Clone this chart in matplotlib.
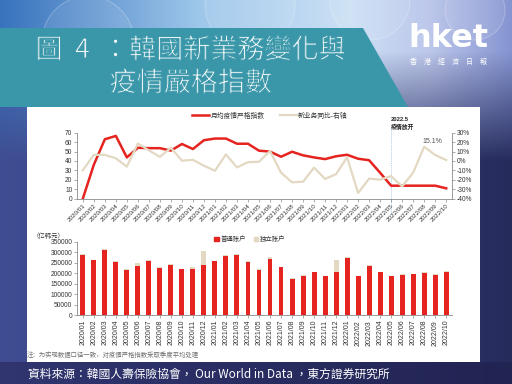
import numpy as np
import matplotlib
matplotlib.use("Agg")
import matplotlib.pyplot as plt
import matplotlib.patheffects as pe
from matplotlib.patches import Polygon, Rectangle, Circle, Patch
from matplotlib.lines import Line2D

# ---------------- data ----------------
months = ["2020/01", "2020/02", "2020/03", "2020/04", "2020/05", "2020/06",
          "2020/07", "2020/08", "2020/09", "2020/10", "2020/11", "2020/12",
          "2021/01", "2021/02", "2021/03", "2021/04", "2021/05", "2021/06",
          "2021/07", "2021/08", "2021/09", "2021/10", "2021/11", "2021/12",
          "2022/01", "2022/02", "2022/03", "2022/04", "2022/05", "2022/06",
          "2022/07", "2022/08", "2022/09", "2022/10"]

# monthly average stringency index (left axis)
stringency = [0, 36, 63, 66.6, 43.8, 54, 53.6, 53.6, 51, 58, 52.7, 62,
              63.8, 63.8, 58.3, 58.3, 50.9, 50, 44.5, 49.8, 46, 43.8, 42, 45,
              46.6, 42.4, 40.8, 27.5, 13.8, 13.8, 13.8, 13.8, 13.8, 11]

# new business YoY, % (right axis)
newbiz_yoy = [-9.8, 6.5, 6.5, 2.8, -6, 18.5, 11.3, 4.4, 14, 0.3, 1.2, -5,
              -10.4, 7, -6.8, -1.3, -0.8, 10.6, -12.4, -22.6, -22, -7, -19, -14,
              3.9, -34, -18.7, -19.8, -16, -27, -12.4, 15.1, 6.4, 1]

# premiums, 100 million KRW
general_acct = [285000, 262000, 310000, 253000, 216000, 236000, 258000, 226000,
                240000, 219000, 220000, 239000, 257000, 283000, 286000, 253000,
                215000, 268000, 227000, 174000, 188000, 203000, 184000, 206000,
                272000, 185000, 233000, 203000, 184000, 192000, 195000, 201000,
                192000, 205000]
separate_acct = [5000, 3000, 3000, 5000, 3000, 12000, 3000, 3000, 3000, 2000,
                 9000, 67000, 3000, 2000, 5000, 3000, 3000, 8000, 2000, 3000,
                 2000, 2000, 2000, 59000, 3000, 2000, 4000, 3000, 2000, 4000,
                 2000, 3000, 5000, 3000]

title_lines = ["圖  4  ：韓國新業務變化與", "疫情嚴格指數"]
source_text = "資料來源：韓國人壽保險協會， Our World in Data ，東方證券研究所"
note_text = "注：为实现数据口径一致，对疫情严格指数采取季度平均处理"

# ---------------- style ----------------
CH = ["Liberation Sans", "Noto Sans CJK SC"]
plt.rcParams["font.family"] = CH
RED = "#e5231f"
BEIGE = "#e3d9c3"
TXT = "#333333"
SPINE = "#8a8a8a"
TEAL = "#3a97a9"

W, H = 512, 384
fig = plt.figure(figsize=(5.12, 3.84), dpi=100)

# ---------------- background ----------------
bg = fig.add_axes([0, 0, 1, 1])
bg.set_xlim(0, W)
bg.set_ylim(H, 0)
bg.axis("off")

yy, xx = np.mgrid[0:H, 0:W].astype(float)
xs = np.array([0, 200, 350, 430, 512])
top_cols = np.array([[0.22, 0.45, 0.74], [0.62, 0.78, 0.92], [0.80, 0.88, 0.96],
                     [0.74, 0.78, 0.92], [0.52, 0.58, 0.82]])
dark_cols = np.array([[0.25, 0.30, 0.57], [0.23, 0.27, 0.52], [0.20, 0.23, 0.46],
                      [0.17, 0.20, 0.40], [0.15, 0.17, 0.36]])
img = np.zeros((H, W, 3))
f = np.clip((yy - 50) / 110.0, 0, 1)
for c in range(3):
    tc = np.interp(xx, xs, top_cols[:, c])
    dc = np.interp(xx, xs, dark_cols[:, c])
    img[..., c] = tc * (1 - f) + dc * f
foot = yy >= 362
for c, (a, b) in enumerate([(0.19, 0.13), (0.21, 0.14), (0.44, 0.32)]):
    img[..., c] = np.where(foot, a + (b - a) * xx / W, img[..., c])
bg.imshow(img, extent=(0, W, H, 0), aspect="auto", zorder=0)

for (cx, cy, r) in [(88, 42, 46), (250, 5, 45), (370, 0, 40), (475, 10, 30)]:
    bg.add_patch(Circle((cx, cy), r, fc=(1, 1, 1, 0.08), ec=(1, 1, 1, 0.25),
                        lw=0.7, zorder=1))

bg.add_patch(Polygon([(0, 28), (363, 28), (408, 107), (0, 107)], closed=True,
                     fc=TEAL, ec="none", zorder=2))
bg.add_patch(Rectangle((27, 107), 453, 255, fc="white", ec="none", zorder=2))

ttl_font = ["Noto Sans CJK TC", "DejaVu Sans"]
thin = [pe.Normal(), pe.Stroke(linewidth=0.7, foreground=TEAL)]
bg.text(191, 50.5, title_lines[0], ha="center", va="center", fontsize=19.5,
        color="white", family=ttl_font, zorder=3, path_effects=thin)
bg.text(191, 83.5, title_lines[1], ha="center", va="center", fontsize=19.5,
        color="white", family=ttl_font, zorder=3, path_effects=thin)

bg.text(448, 47, "hket", ha="center", va="baseline", fontsize=23,
        fontweight="bold", color="white", family="DejaVu Sans", zorder=3)
bg.text(448, 61.5, "香　港　經　濟　日　報", ha="center", va="center",
        fontsize=5.0, color="white", family=ttl_font, zorder=3)

bg.text(28, 374, source_text, ha="left", va="center", fontsize=8.5,
        color="white", family=ttl_font, zorder=3)
bg.text(27, 355, note_text, ha="left", va="center", fontsize=4.6,
        color="#707070", family=CH, zorder=3)
bg.text(33, 235.5, "（亿韩元）", ha="left", va="center", fontsize=4.6,
        color=TXT, family=CH, zorder=3)

x = np.arange(len(months))


def style_axis(ax):
    ax.tick_params(axis="both", direction="out", length=2, width=0.5,
                   color=SPINE, labelsize=4.8, labelcolor=TXT, pad=1.5)
    for s in ax.spines.values():
        s.set_color(SPINE)
        s.set_linewidth(0.6)


# ---------------- top chart ----------------
ax1 = fig.add_axes([77.3 / W, 1 - 198.7 / H, 374.4 / W, 66 / H])
ax1.set_zorder(5)
ax1.plot(x, stringency, color=RED, lw=1.8, solid_joinstyle="round")
ax1.set_ylim(0, 70)
ax1.set_yticks(np.arange(0, 71, 10))
ax1.set_xlim(-0.5, len(months) - 0.5)
ax1.set_xticks(x)
ax1.set_xticklabels(months, rotation=45, ha="right", rotation_mode="anchor")
style_axis(ax1)
ax1.tick_params(axis="x", labelsize=4.5)
ax1.spines["top"].set_visible(False)
ax1.spines["right"].set_visible(False)

ax1b = ax1.twinx()
ax1b.plot(x, newbiz_yoy, color=BEIGE, lw=1.6, solid_joinstyle="round")
ax1b.set_ylim(-40, 30)
ax1b.set_yticks(np.arange(-40, 31, 10))
ax1b.set_yticklabels([f"{v}%" for v in range(-40, 31, 10)])
style_axis(ax1b)
ax1b.spines["top"].set_visible(False)
ax1b.spines["left"].set_visible(False)
ax1b.spines["bottom"].set_visible(False)
ax1b.annotate("15.1%", xy=(31, newbiz_yoy[31]), xytext=(-1, 1.2),
              textcoords="offset points", ha="left", va="bottom",
              fontsize=5, color="#555555")

ax1.axvline(28, ymin=-0.22, ymax=1.12, color="#9dbde3", lw=0.6,
            ls=(0, (1, 1.2)), clip_on=False, zorder=0)
ax1.text(28.0, 1.045, "2022.5\n疫情放开", transform=ax1.get_xaxis_transform(),
         ha="left", va="bottom", fontsize=4.2, fontweight="bold", color="#222222",
         linespacing=1.2)

handles = [Line2D([], [], color=RED, lw=1.8), Line2D([], [], color=BEIGE, lw=1.6)]
fig.legend(handles, ["月均疫情严格指数", "新业务同比-右轴"], loc="center",
           bbox_to_anchor=(270 / W, 1 - 116 / H), ncol=2, frameon=False,
           fontsize=4.9, handlelength=2.5, handletextpad=0.2, columnspacing=2.2,
           labelcolor=TXT)

# ---------------- bottom chart ----------------
ax2 = fig.add_axes([77.3 / W, 1 - 315 / H, 374.4 / W, 73.3 / H])
ax2.set_zorder(5)
ax2.bar(x, general_acct, width=0.45, color=RED, label="普通账户")
ax2.bar(x, separate_acct, bottom=general_acct, width=0.45, color=BEIGE,
        label="独立账户")
ax2.set_ylim(0, 350000)
ax2.set_yticks(np.arange(0, 350001, 50000))
ax2.set_xlim(-0.5, len(months) - 0.5)
ax2.set_xticks(x)
ax2.set_xticklabels(months, rotation=90, ha="center", va="top")
style_axis(ax2)
ax2.tick_params(axis="x", labelsize=5)
ax2.spines["top"].set_visible(False)
ax2.spines["right"].set_visible(False)
ax2.legend(handles=[Patch(color=RED), Patch(color=BEIGE)],
           labels=["普通账户", "独立账户"], loc="center",
           bbox_to_anchor=(250 / W, 1 - 239 / H), bbox_transform=fig.transFigure,
           ncol=2, frameon=False, fontsize=4.6, handlelength=0.7,
           handleheight=0.7, handletextpad=0.3, columnspacing=1.2,
           labelcolor=TXT)

fig.savefig("out.png", dpi=100)
